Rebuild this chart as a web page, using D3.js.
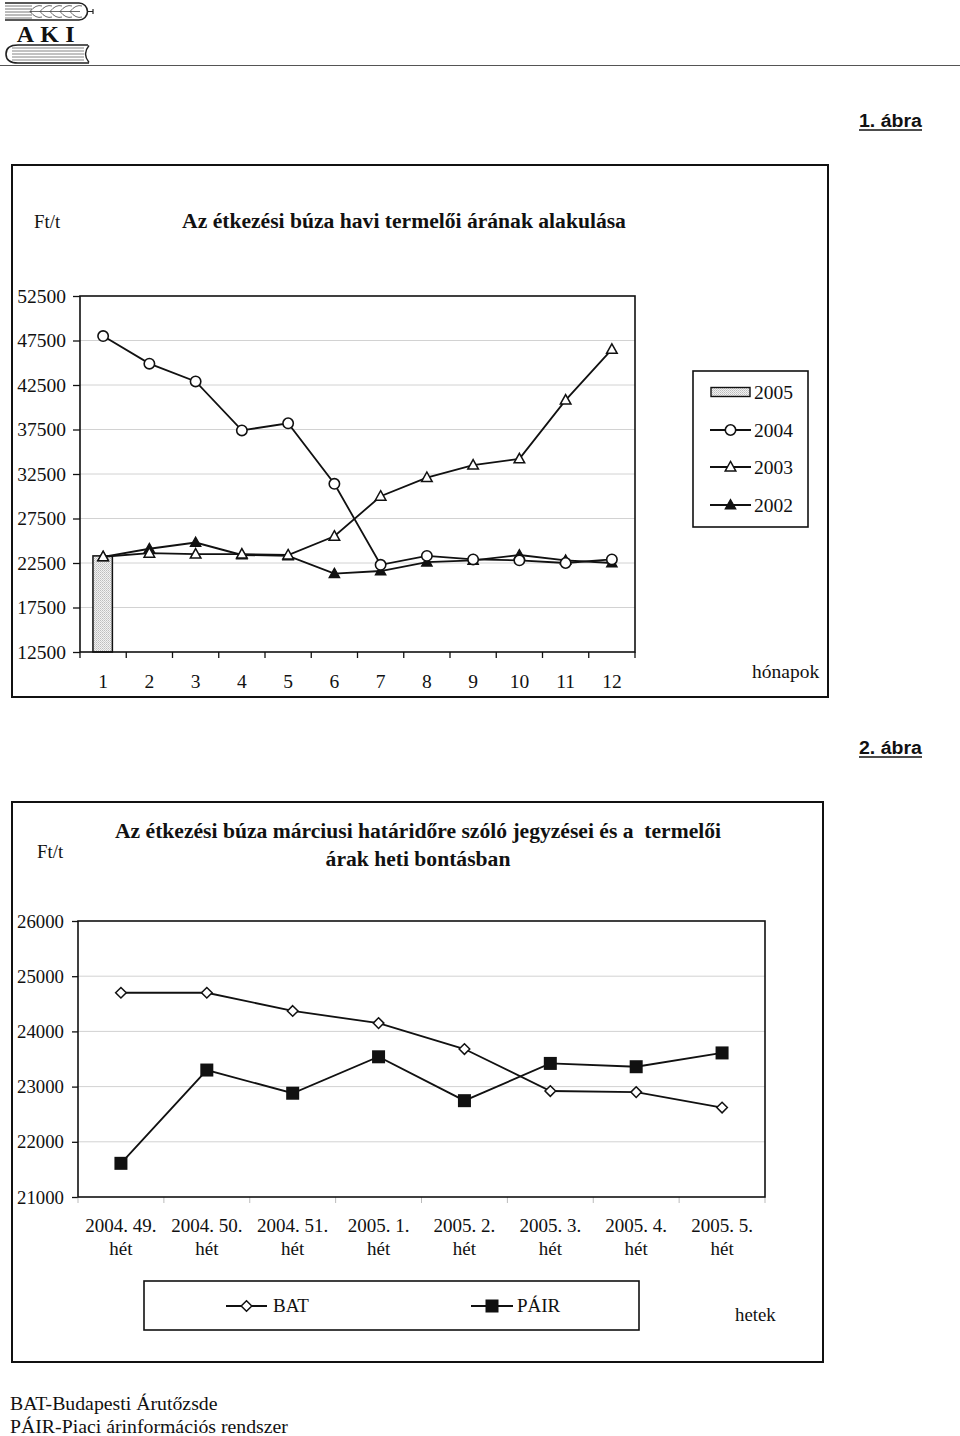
<!DOCTYPE html>
<html>
<head>
<meta charset="utf-8">
<script src="https://cdn.jsdelivr.net/npm/d3@7"></script>
<style>
  html, body { margin: 0; padding: 0; background: #fff; }
  svg { display: block; }
  text { font-family: "Liberation Serif", "Times New Roman", serif; fill: #111; }
</style>
</head>
<body>
<script>
// ---------- DATA ----------
const months = ["1","2","3","4","5","6","7","8","9","10","11","12"];
const yTicks1 = [12500,17500,22500,27500,32500,37500,42500,47500,52500];
const s2005 = [23300];
const s2004 = [48000,44900,42900,37400,38200,31400,22300,23300,22900,22800,22500,22900];
const s2003 = [23200,23600,23500,23500,23400,25500,30000,32100,33500,34200,40800,46500];
const s2002 = [23200,24100,24800,23400,23300,21300,21600,22600,22800,23400,22800,22500];
const legend1 = ["2005","2004","2003","2002"];

const weeks = ["2004. 49.","2004. 50.","2004. 51.","2005. 1.","2005. 2.","2005. 3.","2005. 4.","2005. 5."];
const weekSub = "hét";
const yTicks2 = [21000,22000,23000,24000,25000,26000];
const bat  = [24700,24700,24370,24150,23680,22920,22900,22620];
const pair = [21610,23300,22880,23540,22745,23420,23360,23610];
const legend2 = ["BAT","PÁIR"];

const title1 = "Az étkezési búza havi termelői árának alakulása";
const title2a = "Az étkezési búza márciusi határidőre szóló jegyzései és a  termelői";
const title2b = "árak heti bontásban";

// ---------- SVG ----------
const W = 960, H = 1436;
const svg = d3.select("body").append("svg").attr("width", W).attr("height", H);

const defs = svg.append("defs");
const pat = defs.append("pattern").attr("id","stipple").attr("width",2).attr("height",2)
  .attr("patternUnits","userSpaceOnUse");
pat.append("rect").attr("width",2).attr("height",2).attr("fill","#f2f2f2");
pat.append("rect").attr("width",1).attr("height",1).attr("fill","#bdbdbd");
pat.append("rect").attr("x",1).attr("y",1).attr("width",1).attr("height",1).attr("fill","#cfcfcf");

// ---------- LOGO ----------
const logo = svg.append("g");
logo.append("path").attr("d","M5,3 H79 A8.5,8.5 0 0 1 79,20 H5")
  .attr("fill","none").attr("stroke","#222").attr("stroke-width",1.6);
for (let i = 0; i < 5; i++) {
  logo.append("line").attr("x1",5).attr("x2",32).attr("y1",6+i*3).attr("y2",6+i*3)
    .attr("stroke","#555").attr("stroke-width",0.8);
}
for (let i = 0; i < 5; i++) {
  const x0 = 30 + i*10;
  logo.append("path").attr("d",`M${x0},11.5 Q${x0+6},4 ${x0+12},6 M${x0},11.5 Q${x0+6},19 ${x0+12},17`)
    .attr("fill","none").attr("stroke","#444").attr("stroke-width",0.8);
}
logo.append("line").attr("x1",30).attr("x2",80).attr("y1",11.5).attr("y2",11.5).attr("stroke","#444").attr("stroke-width",0.8);
logo.append("path").attr("d","M87.5,11.5 H93 M93,9 V14").attr("stroke","#222").attr("stroke-width",1.2).attr("fill","none");
[["A",25.5],["K",49.5],["I",70]].forEach(([t,x]) => {
  logo.append("text").attr("x",x).attr("y",42).attr("text-anchor","middle")
    .attr("font-weight","bold").attr("font-size",24).text(t);
});
logo.append("path").attr("d","M88,45 H18 Q6,45 6,54 Q6,63 18,63 H89")
  .attr("fill","none").attr("stroke","#222").attr("stroke-width",1.6);
logo.append("path").attr("d","M89,45.5 Q82,54 89,62.5").attr("fill","none").attr("stroke","#222").attr("stroke-width",1.4);
for (let i = 0; i < 5; i++) {
  logo.append("line").attr("x1",12).attr("x2",84).attr("y1",48+i*3).attr("y2",48+i*3)
    .attr("stroke","#666").attr("stroke-width",0.8);
}
svg.append("line").attr("x1",0).attr("x2",960).attr("y1",65.5).attr("y2",65.5)
  .attr("stroke","#555").attr("stroke-width",1.2);

// ---------- "ábra" labels ----------
function abra(label, xRight, baseline) {
  svg.append("text").attr("x", xRight).attr("y", baseline).attr("text-anchor","end")
    .style("font-family","'Liberation Sans Narrow','Liberation Sans',Arial,sans-serif")
    .attr("font-weight","bold").attr("font-size",18)
    .attr("textLength", 63).attr("lengthAdjust","spacingAndGlyphs").text(label);
  svg.append("line").attr("x1", xRight-63).attr("x2", xRight).attr("y1", baseline+3).attr("y2", baseline+3)
    .attr("stroke","#111").attr("stroke-width",1.5);
}
abra("1. ábra", 922, 127);
abra("2. ábra", 922, 754);

// ---------- helpers ----------
const tri = (s) => `M0,${-s*1.05}L${s},${s*0.75}L${-s},${s*0.75}Z`;
const diamond = (s) => `M0,${-s}L${s},0L0,${s}L${-s},0Z`;

function marker(g, type, x, y) {
  if (type === "circle") {
    g.append("circle").attr("cx",x).attr("cy",y).attr("r",5.2)
      .attr("fill","#fff").attr("stroke","#111").attr("stroke-width",1.6);
  } else if (type === "tri-open") {
    g.append("path").attr("d",tri(5.3)).attr("transform",`translate(${x},${y})`)
      .attr("fill","#fff").attr("stroke","#111").attr("stroke-width",1.5);
  } else if (type === "tri-fill") {
    g.append("path").attr("d",tri(5.3)).attr("transform",`translate(${x},${y})`)
      .attr("fill","#111").attr("stroke","#111").attr("stroke-width",1.2);
  } else if (type === "diamond") {
    g.append("path").attr("d",diamond(5.3)).attr("transform",`translate(${x},${y})`)
      .attr("fill","#fff").attr("stroke","#111").attr("stroke-width",1.5);
  } else if (type === "square") {
    g.append("rect").attr("x",x-6.5).attr("y",y-6.5).attr("width",13).attr("height",13)
      .attr("fill","#111");
  }
}

// ================= CHART 1 =================
svg.append("rect").attr("x",12).attr("y",165).attr("width",816).attr("height",532)
  .attr("fill","none").attr("stroke","#111").attr("stroke-width",2);

svg.append("text").attr("x",34).attr("y",228).attr("font-size",18.8).text("Ft/t");
svg.append("text").attr("x",404).attr("y",228).attr("text-anchor","middle")
  .attr("font-size",21.6).attr("font-weight","bold").text(title1);

const p1 = {l:80, r:635, t:296, b:652};
const x1 = d3.scaleBand().domain(months).range([p1.l, p1.r]);
const y1 = d3.scaleLinear().domain([12500,52500]).range([p1.b, p1.t]);
const g1 = svg.append("g");

g1.selectAll(".grid").data(yTicks1.slice(1,-1)).join("line")
  .attr("x1",p1.l).attr("x2",p1.r).attr("y1",d=>y1(d)).attr("y2",d=>y1(d))
  .attr("stroke","#d2d2d2").attr("stroke-width",1);

const ya1 = d3.axisLeft(y1).tickValues(yTicks1).tickSize(7).tickPadding(7).tickFormat(d3.format("d"));
const yg1 = g1.append("g").attr("transform",`translate(${p1.l},0)`).call(ya1);
yg1.select(".domain").remove();
yg1.selectAll(".tick line").attr("stroke","#111").attr("stroke-width",1.3);
yg1.selectAll(".tick text").attr("font-size",19.5).style("font-family","'Liberation Serif',serif").attr("fill","#111");

const bounds1 = d3.range(months.length+1).map(i => p1.l + i*x1.step());
g1.selectAll(".xt").data(bounds1).join("line")
  .attr("x1",d=>d).attr("x2",d=>d).attr("y1",p1.b).attr("y2",p1.b+6)
  .attr("stroke","#111").attr("stroke-width",1.3);
g1.selectAll(".xl").data(months).join("text")
  .attr("x",d=>x1(d)+x1.bandwidth()/2).attr("y",688).attr("text-anchor","middle")
  .attr("font-size",19.5).text(d=>d);

g1.selectAll(".bar").data(s2005).join("rect")
  .attr("x",(d,i)=>x1(months[i])+x1.bandwidth()*0.28)
  .attr("width",x1.bandwidth()*0.42)
  .attr("y",d=>y1(d)).attr("height",d=>p1.b-y1(d))
  .attr("fill","url(#stipple)").attr("stroke","#111").attr("stroke-width",1.5);

g1.append("rect").attr("x",p1.l).attr("y",p1.t).attr("width",p1.r-p1.l).attr("height",p1.b-p1.t)
  .attr("fill","none").attr("stroke","#111").attr("stroke-width",1.6);

const line1 = d3.line().x((d,i)=>x1(months[i])+x1.bandwidth()/2).y(d=>y1(d));
const series1 = [
  {data:s2002, m:"tri-fill"},
  {data:s2003, m:"tri-open"},
  {data:s2004, m:"circle"}
];
series1.forEach(s => {
  g1.append("path").attr("d",line1(s.data)).attr("fill","none").attr("stroke","#111").attr("stroke-width",1.8);
});
series1.forEach(s => {
  s.data.forEach((v,i) => marker(g1, s.m, x1(months[i])+x1.bandwidth()/2, y1(v)));
});

const lg1 = svg.append("g");
lg1.append("rect").attr("x",693).attr("y",371).attr("width",115).attr("height",156)
  .attr("fill","#fff").attr("stroke","#111").attr("stroke-width",1.6);
const legY1 = [392,430,467,505];
const legM1 = [null,"circle","tri-open","tri-fill"];
legend1.forEach((lab,i) => {
  const cy = legY1[i];
  if (i === 0) {
    lg1.append("rect").attr("x",711).attr("y",cy-4.5).attr("width",39).attr("height",9)
      .attr("fill","url(#stipple)").attr("stroke","#111").attr("stroke-width",1.4);
  } else {
    lg1.append("line").attr("x1",710).attr("x2",751).attr("y1",cy).attr("y2",cy)
      .attr("stroke","#111").attr("stroke-width",1.8);
    marker(lg1, legM1[i], 730.5, cy);
  }
  lg1.append("text").attr("x",754).attr("y",cy+7).attr("font-size",19.5).text(lab);
});
svg.append("text").attr("x",752).attr("y",678).attr("font-size",19.5).text("hónapok");

// ================= CHART 2 =================
svg.append("rect").attr("x",12).attr("y",802).attr("width",811).attr("height",560)
  .attr("fill","none").attr("stroke","#111").attr("stroke-width",2);

svg.append("text").attr("x",37).attr("y",858).attr("font-size",18.8).text("Ft/t");
svg.append("text").attr("x",418).attr("y",838).attr("text-anchor","middle")
  .attr("font-size",21.6).attr("font-weight","bold")
  .attr("xml:space","preserve").text(title2a);
svg.append("text").attr("x",418).attr("y",866).attr("text-anchor","middle")
  .attr("font-size",21.6).attr("font-weight","bold").text(title2b);

const p2 = {l:78, r:765, t:921, b:1197};
const x2 = d3.scaleBand().domain(weeks).range([p2.l, p2.r]);
const y2 = d3.scaleLinear().domain([21000,26000]).range([p2.b, p2.t]);
const g2 = svg.append("g");

g2.selectAll(".grid").data(yTicks2.slice(1,-1)).join("line")
  .attr("x1",p2.l).attr("x2",p2.r).attr("y1",d=>y2(d)).attr("y2",d=>y2(d))
  .attr("stroke","#d2d2d2").attr("stroke-width",1);

const ya2 = d3.axisLeft(y2).tickValues(yTicks2).tickSize(6).tickPadding(8).tickFormat(d3.format("d"));
const yg2 = g2.append("g").attr("transform",`translate(${p2.l},0)`).call(ya2);
yg2.select(".domain").remove();
yg2.selectAll(".tick line").attr("stroke","#111").attr("stroke-width",1.3);
yg2.selectAll(".tick text").attr("font-size",18.8).style("font-family","'Liberation Serif',serif").attr("fill","#111");

const bounds2 = d3.range(weeks.length+1).map(i => p2.l + i*x2.step());
g2.selectAll(".xt").data(bounds2).join("line")
  .attr("x1",d=>d).attr("x2",d=>d).attr("y1",p2.b).attr("y2",p2.b+6)
  .attr("stroke","#bbb").attr("stroke-width",1);
g2.selectAll(".xl").data(weeks).join("text")
  .attr("x",d=>x2(d)+x2.bandwidth()/2).attr("y",1232).attr("text-anchor","middle")
  .attr("font-size",19).text(d=>d);
g2.selectAll(".xl2").data(weeks).join("text")
  .attr("x",d=>x2(d)+x2.bandwidth()/2).attr("y",1255).attr("text-anchor","middle")
  .attr("font-size",19).text(weekSub);

g2.append("rect").attr("x",p2.l).attr("y",p2.t).attr("width",p2.r-p2.l).attr("height",p2.b-p2.t)
  .attr("fill","none").attr("stroke","#111").attr("stroke-width",1.6);

const line2 = d3.line().x((d,i)=>x2(weeks[i])+x2.bandwidth()/2).y(d=>y2(d));
const series2 = [{data:bat, m:"diamond"},{data:pair, m:"square"}];
series2.forEach(s => {
  g2.append("path").attr("d",line2(s.data)).attr("fill","none").attr("stroke","#111").attr("stroke-width",1.8);
});
series2.forEach(s => {
  s.data.forEach((v,i) => marker(g2, s.m, x2(weeks[i])+x2.bandwidth()/2, y2(v)));
});

const lg2 = svg.append("g");
lg2.append("rect").attr("x",144).attr("y",1281).attr("width",495).attr("height",49)
  .attr("fill","#fff").attr("stroke","#111").attr("stroke-width",1.6);
const legX2 = [[226,267,273],[471,513,517]];
legend2.forEach((lab,i) => {
  const [a,b,tx] = legX2[i];
  lg2.append("line").attr("x1",a).attr("x2",b).attr("y1",1306).attr("y2",1306)
    .attr("stroke","#111").attr("stroke-width",1.8);
  marker(lg2, series2[i].m, (a+b)/2, 1306);
  lg2.append("text").attr("x",tx).attr("y",1312).attr("font-size",19).text(lab);
});
svg.append("text").attr("x",735).attr("y",1321).attr("font-size",18.8).text("hetek");

// ---------- footer ----------
svg.append("text").attr("x",10).attr("y",1410).attr("font-size",19.8).text("BAT-Budapesti Árutőzsde");
svg.append("text").attr("x",10).attr("y",1433).attr("font-size",19.8).text("PÁIR-Piaci árinformációs rendszer");
</script>
</body>
</html>
